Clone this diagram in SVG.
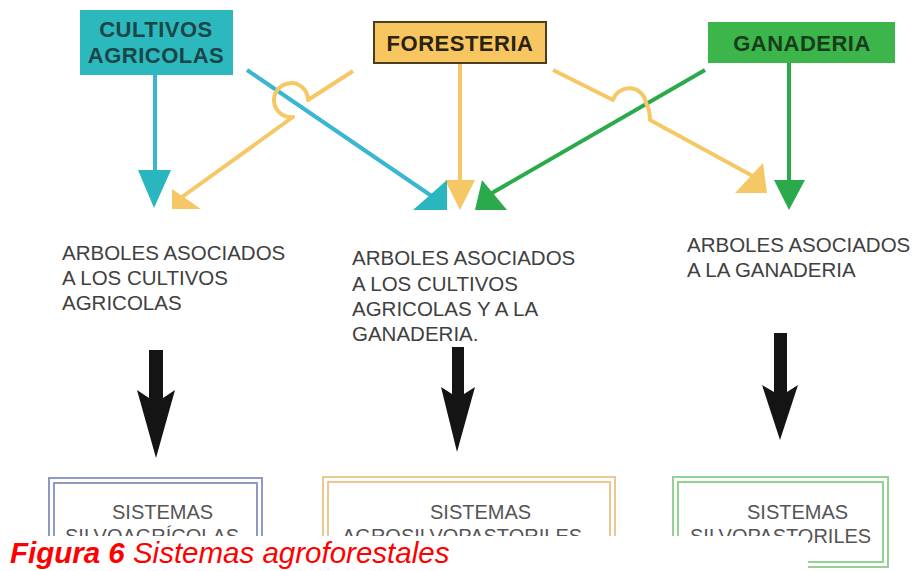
<svg xmlns="http://www.w3.org/2000/svg" width="914" height="571" viewBox="0 0 914 571">
<style>
.lbl{font-family:"Liberation Sans",Arial,sans-serif;font-size:20.5px;fill:#404040}
.hd{font-family:"Liberation Sans",Arial,sans-serif;font-size:22px;font-weight:bold;text-anchor:middle;letter-spacing:0.5px}
.sys{font-family:"Liberation Sans",Arial,sans-serif;font-size:20px;fill:#555}
.teal{stroke:#3ab6d2;stroke-width:4;fill:none}
.yel{stroke:#f6c865;stroke-width:4;fill:none;stroke-linejoin:round}
.grn{stroke:#2aaa4a;stroke-width:4;fill:none}
.blk{fill:#141414}
</style>
<defs>
  <clipPath id="cut">
    <rect x="0" y="0" width="914" height="536"/>
    <rect x="808" y="0" width="106" height="571"/>
  </clipPath>
</defs>
<rect width="914" height="571" fill="#fff"/>

<g id="connectors">
  <line class="teal" x1="155" y1="75" x2="155" y2="172"/>
  <polygon points="138,170 171,170 154,208" fill="#2ab6be"/>
  <line class="teal" x1="247" y1="70" x2="436" y2="199"/>
  <path class="yel" d="M353,71 L308,100 A17,17 0 1 0 293,117 L182,197"/>
  <line class="yel" x1="460" y1="63" x2="460" y2="182"/>
  <line class="grn" x1="705" y1="70" x2="485" y2="197"/>
  <path class="yel" d="M553,70 L613,100 A17,17 0 0 1 646,103 Q650,110 650,120 L760,180"/>
  <line class="grn" x1="789" y1="63" x2="789" y2="182"/>
  <polygon points="172,189 172,209 201,209" fill="#f6c865"/>
  <polygon points="445,180 475,180 460,210" fill="#f6c865"/>
  <polygon points="447,180 447,210 413,210" fill="#2ab6be"/>
  <polygon points="482,180 475,210 507,210" fill="#2aaa4a"/>
  <polygon points="763,163 767,193 735,193" fill="#f6c865"/>
  <polygon points="774,180 805,180 789,210" fill="#2aaa4a"/>
  <polygon class="blk" points="149,350 163,350 163,398 175,390 156,458 137,390 149,398"/>
  <polygon class="blk" points="452,347 464,347 464,394 475,387 457,452 441,387 452,394"/>
  <polygon class="blk" points="774,333 787,333 787,392 798,385 780,440 762,385 774,392"/>
</g>

<g id="cultivos">
  <rect x="80" y="10" width="153" height="65" fill="#2bb9be"/>
  <text class="hd" x="156" y="37" fill="#1b4548">CULTIVOS</text>
  <text class="hd" x="156" y="63" fill="#1b4548">AGRICOLAS</text>
</g>
<g id="foresteria">
  <rect x="374" y="22" width="172" height="41" fill="#f8c660" stroke="#4d3d1e" stroke-width="2"/>
  <text class="hd" x="460" y="51" fill="#2b2210">FORESTERIA</text>
</g>
<g id="ganaderia">
  <rect x="708" y="22" width="187" height="41" fill="#3cb54b"/>
  <text class="hd" x="802" y="51" fill="#173d1c">GANADERIA</text>
</g>

<g id="arboles-cultivos">
  <text class="lbl" x="62" y="260">ARBOLES ASOCIADOS</text>
  <text class="lbl" x="62" y="285">A LOS CULTIVOS</text>
  <text class="lbl" x="62" y="310">AGRICOLAS</text>
</g>
<g id="arboles-cultivos-ganaderia">
  <text class="lbl" x="352" y="265">ARBOLES ASOCIADOS</text>
  <text class="lbl" x="352" y="291">A LOS CULTIVOS</text>
  <text class="lbl" x="352" y="316">AGRICOLAS Y A LA</text>
  <text class="lbl" x="352" y="341">GANADERIA.</text>
</g>
<g id="arboles-ganaderia">
  <text class="lbl" x="687" y="252">ARBOLES ASOCIADOS</text>
  <text class="lbl" x="687" y="277">A LA GANADERIA</text>
</g>

<g id="silvoagricolas">
  <rect x="49" y="478" width="213" height="90" fill="none" stroke="#9098c4" stroke-width="2"/>
  <rect x="54" y="483" width="203" height="80" fill="none" stroke="#9098c4" stroke-width="2"/>
  <text class="sys" x="112" y="519">SISTEMAS</text>
  <text class="sys" x="65" y="543" clip-path="url(#cut)">SILVOAGRÍCOLAS</text>
</g>
<g id="agrosilvopastoriles">
  <rect x="323" y="477" width="292" height="91" fill="none" stroke="#ebc892" stroke-width="2"/>
  <rect x="328" y="482" width="282" height="81" fill="none" stroke="#ebc892" stroke-width="2"/>
  <text class="sys" x="430" y="519">SISTEMAS</text>
  <text class="sys" x="342" y="543" clip-path="url(#cut)">AGROSILVOPASTORILES</text>
</g>
<g id="silvopastoriles">
  <rect x="673" y="477" width="215" height="90" fill="none" stroke="#95d095" stroke-width="2"/>
  <rect x="678" y="482" width="205" height="80" fill="none" stroke="#95d095" stroke-width="2"/>
  <text class="sys" x="747" y="519">SISTEMAS</text>
  <text class="sys" x="690" y="543" clip-path="url(#cut)">SILVOPASTORILES</text>
</g>

<g id="caption">
  <rect x="0" y="536" width="808" height="35" fill="#fff"/>
  <text x="10" y="563" font-family="'Liberation Sans',Arial,sans-serif" font-size="29.5" font-style="italic" fill="#ff0000"><tspan font-weight="bold">Figura 6</tspan> Sistemas agroforestales</text>
</g>
</svg>
